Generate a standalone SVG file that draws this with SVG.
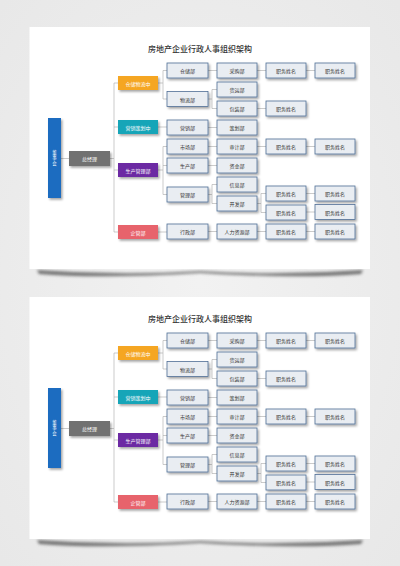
<svg xmlns="http://www.w3.org/2000/svg" width="400" height="566" viewBox="0 0 400 566">
<defs>
<filter id="sh" x="-20%" y="-30%" width="150%" height="180%"><feDropShadow dx="1.5" dy="1.8" stdDeviation="1" flood-color="#000" flood-opacity="0.35"/></filter>
<filter id="blur" x="-10%" y="-200%" width="120%" height="500%"><feGaussianBlur stdDeviation="1.6"/></filter>
<style>
.t{font-family:"Noto Sans CJK SC","Liberation Sans",sans-serif;text-anchor:middle;dominant-baseline:central}
.bx rect{fill:#e9edf2;stroke:#4f6f96;stroke-width:0.8;filter:url(#sh)}
.bx text{font-size:5px;fill:#333}
.cl rect{filter:url(#sh)}
.cl text{font-size:5px;fill:#fff}
.vt{font-size:4.4px;fill:#fff}
.ln{stroke:#a8a8a8;stroke-width:0.6;fill:none}
.title{font-size:8px;fill:#333;font-weight:500}
</style>
<radialGradient id="bg" cx="0.5" cy="0.5" r="0.7"><stop offset="0" stop-color="#f2f2f2"/><stop offset="1" stop-color="#e8e8e8"/></radialGradient>
</defs>
<rect width="400" height="566" fill="url(#bg)"/>

<g id="card1">
<path d="M37 270 Q120 276 200 271 Q280 276 363 270 L361 274 Q300 279 200 273 Q100 279 39 274 Z" fill="#555" filter="url(#blur)" opacity="0.8"/>
<rect x="29.5" y="27" width="340.5" height="242" fill="#fff"/>
<text class="t title" x="200" y="48">房地产企业行政人事组织架构</text>
<g id="connectors1">
<path class="ln" d="M61 158.5H69M110 158.5H114M114 83V232M114 83H118M114 127H118M114 170H118M114 232H118"/>
<path class="ln" d="M158 83H163M163 70.5V99M163 70.5H167M163 99H167M158 127H167M158 170H163M163 146.5V194.5M163 146.5H167M163 165.5H167M163 194.5H167M158 232H167"/>
<path class="ln" d="M208 70.5H217M208 99H212M212 89.5V108.5M212 89.5H217M212 108.5H217M208 127.5H217M208 146.5H217M208 165.5H217M208 194.5H212M212 184.5V203.5M212 184.5H217M212 203.5H217M208 231.5H217"/>
<path class="ln" d="M257 70.5H266M306 70.5H315M257 108.5H266M257 146.5H266M306 146.5H315M257 203.5H261M261 193.5V212.5M261 193.5H266M261 212.5H266M306 193.5H315M306 212H315M257 231.5H266M306 231.5H315"/>
</g>
<g id="n-dongshihui1"><rect x="48" y="118" width="13" height="80" fill="#1a6cc0" filter="url(#sh)"/><text class="t vt" x="54.5" y="151.5">董</text><text class="t vt" x="54.5" y="157">事</text><text class="t vt" x="54.5" y="162.5">会</text></g>
<g id="n-zongjingli1" class="cl"><rect x="69" y="151" width="41" height="15" fill="#717171"/><text class="t" x="89.5" y="158.5">总经理</text></g>
<g id="n-cangchu-c1" class="cl"><rect x="118" y="76" width="40" height="14" fill="#f5a623"/><text class="t" x="138" y="83">仓储物流中</text></g>
<g id="n-yingxiao-c1" class="cl"><rect x="118" y="120" width="40" height="14" fill="#16a5b8"/><text class="t" x="138" y="127">营销策划中</text></g>
<g id="n-shengchan-c1" class="cl"><rect x="118" y="163" width="40" height="14" fill="#6c2ba3"/><text class="t" x="138" y="170">生产管理部</text></g>
<g id="n-qiguan1" class="cl"><rect x="118" y="225" width="40" height="14" fill="#e7646c"/><text class="t" x="138" y="232">企管部</text></g>

<g id="n-cangchu1" class="bx"><rect x="167" y="63" width="41" height="15"/><text class="t" x="187.5" y="70.5">仓储部</text></g>
<g id="n-wuliu1" class="bx"><rect x="167" y="91.5" width="41" height="15"/><text class="t" x="187.5" y="99">物流部</text></g>
<g id="n-yingxiao1" class="bx"><rect x="167" y="120" width="41" height="15"/><text class="t" x="187.5" y="127.5">营销部</text></g>
<g id="n-shichang1" class="bx"><rect x="167" y="139" width="41" height="15"/><text class="t" x="187.5" y="146.5">市场部</text></g>
<g id="n-shengchan1" class="bx"><rect x="167" y="158" width="41" height="15"/><text class="t" x="187.5" y="165.5">生产部</text></g>
<g id="n-guanli1" class="bx"><rect x="167" y="187" width="41" height="15"/><text class="t" x="187.5" y="194.5">管理部</text></g>
<g id="n-xingzheng1" class="bx"><rect x="167" y="224" width="41" height="15"/><text class="t" x="187.5" y="231.5">行政部</text></g>

<g id="n-caigou1" class="bx"><rect x="217" y="63" width="40" height="15"/><text class="t" x="237" y="70.5">采购部</text></g>
<g id="n-huoyun1" class="bx"><rect x="217" y="82" width="40" height="15"/><text class="t" x="237" y="89.5">货运部</text></g>
<g id="n-baozhuang1" class="bx"><rect x="217" y="101" width="40" height="15"/><text class="t" x="237" y="108.5">包装部</text></g>
<g id="n-cehua1" class="bx"><rect x="217" y="120" width="40" height="15"/><text class="t" x="237" y="127.5">策划部</text></g>
<g id="n-shenji1" class="bx"><rect x="217" y="139" width="40" height="15"/><text class="t" x="237" y="146.5">审计部</text></g>
<g id="n-zijin1" class="bx"><rect x="217" y="158" width="40" height="15"/><text class="t" x="237" y="165.5">资金部</text></g>
<g id="n-xinxi1" class="bx"><rect x="217" y="177" width="40" height="15"/><text class="t" x="237" y="184.5">信息部</text></g>
<g id="n-kaifa1" class="bx"><rect x="217" y="196" width="40" height="15"/><text class="t" x="237" y="203.5">开发部</text></g>
<g id="n-renli1" class="bx"><rect x="217" y="224" width="40" height="15"/><text class="t" x="237" y="231.5">人力资源部</text></g>

<g id="n-z1a" class="bx"><rect x="266" y="63" width="40" height="15"/><text class="t" x="286" y="70.5">职务姓名</text></g>
<g id="n-z1b" class="bx"><rect x="266" y="101" width="40" height="15"/><text class="t" x="286" y="108.5">职务姓名</text></g>
<g id="n-z1c" class="bx"><rect x="266" y="139" width="40" height="15"/><text class="t" x="286" y="146.5">职务姓名</text></g>
<g id="n-z1d" class="bx"><rect x="266" y="186" width="40" height="15"/><text class="t" x="286" y="193.5">职务姓名</text></g>
<g id="n-z1e" class="bx"><rect x="266" y="205" width="40" height="15"/><text class="t" x="286" y="212.5">职务姓名</text></g>
<g id="n-z1f" class="bx"><rect x="266" y="224" width="40" height="15"/><text class="t" x="286" y="231.5">职务姓名</text></g>
<g id="n-z1g" class="bx"><rect x="315" y="63" width="40" height="15"/><text class="t" x="335" y="70.5">职务姓名</text></g>
<g id="n-z1h" class="bx"><rect x="315" y="139" width="40" height="15"/><text class="t" x="335" y="146.5">职务姓名</text></g>
<g id="n-z1i" class="bx"><rect x="315" y="186" width="40" height="15"/><text class="t" x="335" y="193.5">职务姓名</text></g>
<g id="n-z1j" class="bx"><rect x="315" y="204.5" width="40" height="15"/><text class="t" x="335" y="212">职务姓名</text></g>
<g id="n-z1k" class="bx"><rect x="315" y="224" width="40" height="15"/><text class="t" x="335" y="231.5">职务姓名</text></g>
</g>

<g id="card2" transform="translate(0,270)">
<path d="M37 270 Q120 276 200 271 Q280 276 363 270 L361 274 Q300 279 200 273 Q100 279 39 274 Z" fill="#555" filter="url(#blur)" opacity="0.8"/>
<rect x="29.5" y="27" width="340.5" height="242" fill="#fff"/>
<text class="t title" x="200" y="48">房地产企业行政人事组织架构</text>
<g id="connectors2">
<path class="ln" d="M61 158.5H69M110 158.5H114M114 83V232M114 83H118M114 127H118M114 170H118M114 232H118"/>
<path class="ln" d="M158 83H163M163 70.5V99M163 70.5H167M163 99H167M158 127H167M158 170H163M163 146.5V194.5M163 146.5H167M163 165.5H167M163 194.5H167M158 232H167"/>
<path class="ln" d="M208 70.5H217M208 99H212M212 89.5V108.5M212 89.5H217M212 108.5H217M208 127.5H217M208 146.5H217M208 165.5H217M208 194.5H212M212 184.5V203.5M212 184.5H217M212 203.5H217M208 231.5H217"/>
<path class="ln" d="M257 70.5H266M306 70.5H315M257 108.5H266M257 146.5H266M306 146.5H315M257 203.5H261M261 193.5V212.5M261 193.5H266M261 212.5H266M306 193.5H315M306 212H315M257 231.5H266M306 231.5H315"/>
</g>
<g id="n-dongshihui2"><rect x="48" y="118" width="13" height="80" fill="#1a6cc0" filter="url(#sh)"/><text class="t vt" x="54.5" y="151.5">董</text><text class="t vt" x="54.5" y="157">事</text><text class="t vt" x="54.5" y="162.5">会</text></g>
<g id="n-zongjingli2" class="cl"><rect x="69" y="151" width="41" height="15" fill="#717171"/><text class="t" x="89.5" y="158.5">总经理</text></g>
<g id="n-cangchu-c2" class="cl"><rect x="118" y="76" width="40" height="14" fill="#f5a623"/><text class="t" x="138" y="83">仓储物流中</text></g>
<g id="n-yingxiao-c2" class="cl"><rect x="118" y="120" width="40" height="14" fill="#16a5b8"/><text class="t" x="138" y="127">营销策划中</text></g>
<g id="n-shengchan-c2" class="cl"><rect x="118" y="163" width="40" height="14" fill="#6c2ba3"/><text class="t" x="138" y="170">生产管理部</text></g>
<g id="n-qiguan2" class="cl"><rect x="118" y="225" width="40" height="14" fill="#e7646c"/><text class="t" x="138" y="232">企管部</text></g>

<g id="n-cangchu2" class="bx"><rect x="167" y="63" width="41" height="15"/><text class="t" x="187.5" y="70.5">仓储部</text></g>
<g id="n-wuliu2" class="bx"><rect x="167" y="91.5" width="41" height="15"/><text class="t" x="187.5" y="99">物流部</text></g>
<g id="n-yingxiao2" class="bx"><rect x="167" y="120" width="41" height="15"/><text class="t" x="187.5" y="127.5">营销部</text></g>
<g id="n-shichang2" class="bx"><rect x="167" y="139" width="41" height="15"/><text class="t" x="187.5" y="146.5">市场部</text></g>
<g id="n-shengchan2" class="bx"><rect x="167" y="158" width="41" height="15"/><text class="t" x="187.5" y="165.5">生产部</text></g>
<g id="n-guanli2" class="bx"><rect x="167" y="187" width="41" height="15"/><text class="t" x="187.5" y="194.5">管理部</text></g>
<g id="n-xingzheng2" class="bx"><rect x="167" y="224" width="41" height="15"/><text class="t" x="187.5" y="231.5">行政部</text></g>

<g id="n-caigou2" class="bx"><rect x="217" y="63" width="40" height="15"/><text class="t" x="237" y="70.5">采购部</text></g>
<g id="n-huoyun2" class="bx"><rect x="217" y="82" width="40" height="15"/><text class="t" x="237" y="89.5">货运部</text></g>
<g id="n-baozhuang2" class="bx"><rect x="217" y="101" width="40" height="15"/><text class="t" x="237" y="108.5">包装部</text></g>
<g id="n-cehua2" class="bx"><rect x="217" y="120" width="40" height="15"/><text class="t" x="237" y="127.5">策划部</text></g>
<g id="n-shenji2" class="bx"><rect x="217" y="139" width="40" height="15"/><text class="t" x="237" y="146.5">审计部</text></g>
<g id="n-zijin2" class="bx"><rect x="217" y="158" width="40" height="15"/><text class="t" x="237" y="165.5">资金部</text></g>
<g id="n-xinxi2" class="bx"><rect x="217" y="177" width="40" height="15"/><text class="t" x="237" y="184.5">信息部</text></g>
<g id="n-kaifa2" class="bx"><rect x="217" y="196" width="40" height="15"/><text class="t" x="237" y="203.5">开发部</text></g>
<g id="n-renli2" class="bx"><rect x="217" y="224" width="40" height="15"/><text class="t" x="237" y="231.5">人力资源部</text></g>

<g id="n-z2a" class="bx"><rect x="266" y="63" width="40" height="15"/><text class="t" x="286" y="70.5">职务姓名</text></g>
<g id="n-z2b" class="bx"><rect x="266" y="101" width="40" height="15"/><text class="t" x="286" y="108.5">职务姓名</text></g>
<g id="n-z2c" class="bx"><rect x="266" y="139" width="40" height="15"/><text class="t" x="286" y="146.5">职务姓名</text></g>
<g id="n-z2d" class="bx"><rect x="266" y="186" width="40" height="15"/><text class="t" x="286" y="193.5">职务姓名</text></g>
<g id="n-z2e" class="bx"><rect x="266" y="205" width="40" height="15"/><text class="t" x="286" y="212.5">职务姓名</text></g>
<g id="n-z2f" class="bx"><rect x="266" y="224" width="40" height="15"/><text class="t" x="286" y="231.5">职务姓名</text></g>
<g id="n-z2g" class="bx"><rect x="315" y="63" width="40" height="15"/><text class="t" x="335" y="70.5">职务姓名</text></g>
<g id="n-z2h" class="bx"><rect x="315" y="139" width="40" height="15"/><text class="t" x="335" y="146.5">职务姓名</text></g>
<g id="n-z2i" class="bx"><rect x="315" y="186" width="40" height="15"/><text class="t" x="335" y="193.5">职务姓名</text></g>
<g id="n-z2j" class="bx"><rect x="315" y="204.5" width="40" height="15"/><text class="t" x="335" y="212">职务姓名</text></g>
<g id="n-z2k" class="bx"><rect x="315" y="224" width="40" height="15"/><text class="t" x="335" y="231.5">职务姓名</text></g>
</g>
</svg>
